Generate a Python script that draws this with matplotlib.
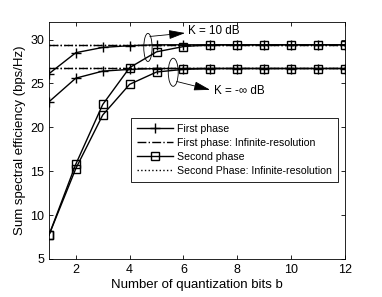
import matplotlib
matplotlib.use("Agg")
import matplotlib.pyplot as plt
from matplotlib.patches import Ellipse

plt.rcParams['font.family'] = ['Liberation Sans', 'DejaVu Sans']

bits = [1, 2, 3, 4, 5, 6, 7, 8, 9, 10, 11, 12]
first_k10 = [26.1, 28.5, 29.1, 29.3, 29.4, 29.4, 29.4, 29.4, 29.4, 29.4, 29.4, 29.4]
first_kinf = [22.9, 25.6, 26.4, 26.6, 26.7, 26.7, 26.7, 26.7, 26.7, 26.7, 26.7, 26.7]
second_k10 = [7.7, 15.8, 22.6, 26.8, 28.6, 29.2, 29.4, 29.4, 29.4, 29.4, 29.4, 29.4]
second_kinf = [7.7, 15.3, 21.4, 24.9, 26.3, 26.6, 26.7, 26.7, 26.7, 26.7, 26.7, 26.7]
inf_k10 = 29.4
inf_kinf = 26.75

fig = plt.figure(figsize=(3.82, 2.97), dpi=100)
ax = fig.add_axes([0.128, 0.128, 0.775, 0.798])

lw = 1.0
ax.plot(bits, first_k10, '-', color='black', lw=lw, marker='+', ms=7, mew=1.0, label='First phase')
ax.plot(bits, first_kinf, '-', color='black', lw=lw, marker='+', ms=7, mew=1.0)
ax.plot([bits[0], bits[-1]], [inf_k10, inf_k10], '-.', color='black', lw=lw, label='First phase: Infinite-resolution')
ax.plot([bits[0], bits[-1]], [inf_kinf, inf_kinf], '-.', color='black', lw=lw)
ax.plot(bits, second_k10, '-', color='black', lw=lw, marker='s', ms=5.5, mfc='none', mew=1.0, label='Second phase')
ax.plot(bits, second_kinf, '-', color='black', lw=lw, marker='s', ms=5.5, mfc='none', mew=1.0)
ax.plot([bits[0], bits[-1]], [inf_k10, inf_k10], ':', color='black', lw=lw, label='Second Phase: Infinite-resolution')
ax.plot([bits[0], bits[-1]], [inf_kinf, inf_kinf], ':', color='black', lw=lw)

ax.set_xlim(1, 12)
ax.set_ylim(5, 32)
ax.set_xticks([2, 4, 6, 8, 10, 12])
ax.set_yticks([5, 10, 15, 20, 25, 30])
ax.tick_params(direction='in', length=3, labelsize=9, top=True, right=True, width=0.6)
for s in ax.spines.values():
    s.set_linewidth(0.6)
ax.set_xlabel('Number of quantization bits b', fontsize=9.5, labelpad=2)
ax.set_ylabel('Sum spectral efficiency (bps/Hz)', fontsize=9.5, labelpad=3)

leg = ax.legend(loc='upper right', bbox_to_anchor=(0.976, 0.595), fontsize=7.6,
                frameon=True, fancybox=False, edgecolor='black', framealpha=1,
                handlelength=3.4, borderpad=0.55, labelspacing=0.38, handletextpad=0.4,
                borderaxespad=0)
leg.get_frame().set_linewidth(0.6)

ax.add_patch(Ellipse((4.68, 29.1), 0.31, 3.2, fill=False, color='black', lw=0.6))
ax.add_patch(Ellipse((5.62, 26.27), 0.37, 3.2, fill=False, color='black', lw=0.6))
arrow_style = dict(arrowstyle='-|>,head_length=1.0,head_width=0.28', color='black', lw=0.6,
                   shrinkA=0, shrinkB=0)
ax.annotate('', xy=(6.06, 30.74), xytext=(4.75, 30.35), arrowprops=arrow_style)
ax.text(6.16, 30.92, 'K = 10 dB', fontsize=8.4, va='center', ha='left')
ax.annotate('', xy=(6.99, 24.27), xytext=(5.75, 25.22), arrowprops=arrow_style)
ax.text(7.13, 24.19, 'K = -\u221e dB', fontsize=8.4, va='center', ha='left')

fig.savefig('out.png', dpi=100)
